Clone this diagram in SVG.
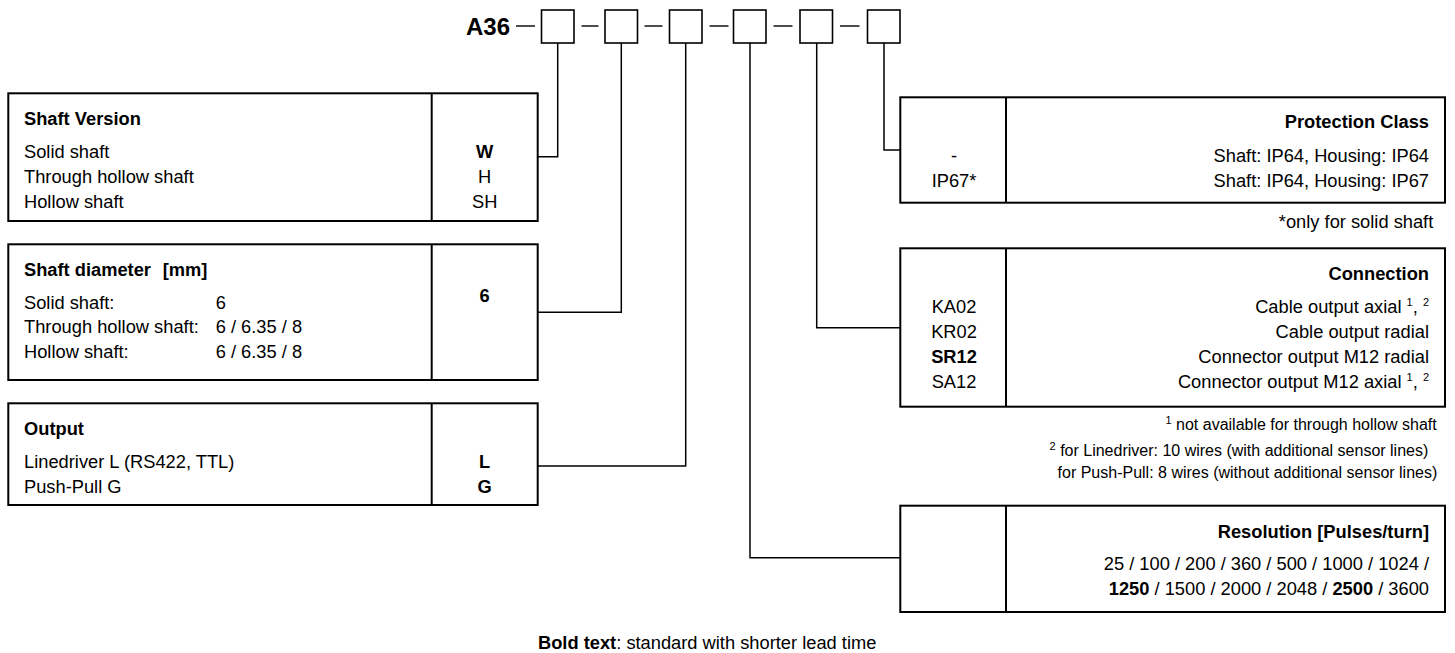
<svg xmlns="http://www.w3.org/2000/svg" width="1455" height="653" viewBox="0 0 1455 653">
<style>
text{font-family:"Liberation Sans",Arial,sans-serif;font-size:18.3px;fill:#000}
.b{font-weight:bold}
.c{text-anchor:middle}
.r{text-anchor:end}
.fn{font-size:16px}
.sup{font-size:11px}
.box{fill:#fff;stroke:#000;stroke-width:2}
.div{stroke:#000;stroke-width:2}
.hb{fill:#fff;stroke:#000;stroke-width:1.6}
.dash{stroke:#000;stroke-width:1.4}
.con{fill:none;stroke:#000;stroke-width:1.5}
</style>
<rect width="1455" height="653" fill="#fff"/>
<g id="header">
<text class="b r" x="510" y="35" style="font-size:24px">A36</text>
<line class="dash" x1="516" y1="26" x2="535" y2="26"/>
<line class="dash" x1="581.5" y1="26" x2="598.5" y2="26"/>
<line class="dash" x1="644.5" y1="26" x2="662.5" y2="26"/>
<line class="dash" x1="709.5" y1="26" x2="728.5" y2="26"/>
<line class="dash" x1="773.5" y1="26" x2="792.5" y2="26"/>
<line class="dash" x1="840" y1="26" x2="859.5" y2="26"/>
<rect class="hb" x="541.5" y="10" width="32.5" height="33"/>
<rect class="hb" x="605" y="10" width="32.5" height="33"/>
<rect class="hb" x="669.5" y="10" width="32.5" height="33"/>
<rect class="hb" x="733.5" y="10" width="32.5" height="33"/>
<rect class="hb" x="800" y="10" width="32.5" height="33"/>
<rect class="hb" x="867.5" y="10" width="32.5" height="33"/>
</g>
<g id="connectors">
<polyline class="con" points="557.7,43 557.7,156.7 537.7,156.7"/>
<polyline class="con" points="621.3,43 621.3,312.3 537.7,312.3"/>
<polyline class="con" points="685.7,43 685.7,466 537.7,466"/>
<polyline class="con" points="750,43 750,557.7 900.3,557.7"/>
<polyline class="con" points="816.7,43 816.7,327.7 900.3,327.7"/>
<polyline class="con" points="884,43 884,150 900.3,150"/>
</g>
<g id="shaft-version">
<rect class="box" x="8.3" y="93.3" width="529.4" height="127.7"/>
<line class="div" x1="431.7" y1="93.3" x2="431.7" y2="221"/>
<text class="b" x="24" y="125">Shaft Version</text>
<text x="24" y="157.7">Solid shaft</text>
<text x="24" y="183">Through hollow shaft</text>
<text x="24" y="208.3">Hollow shaft</text>
<text class="b c" x="484.7" y="157.7">W</text>
<text class="c" x="484.7" y="183">H</text>
<text class="c" x="484.7" y="208.3">SH</text>
</g>
<g id="shaft-diameter">
<rect class="box" x="8.3" y="244.3" width="529.4" height="135.7"/>
<line class="div" x1="431.7" y1="244.3" x2="431.7" y2="380"/>
<text class="b" x="24" y="275.7">Shaft diameter<tspan x="162.7">[mm]</tspan></text>
<text x="24" y="309">Solid shaft:</text>
<text x="24" y="333.3">Through hollow shaft:</text>
<text x="24" y="358.3">Hollow shaft:</text>
<text x="215.7" y="309">6</text>
<text x="215.7" y="333.3">6 / 6.35 / 8</text>
<text x="215.7" y="358.3">6 / 6.35 / 8</text>
<text class="b c" x="484.7" y="302.3">6</text>
</g>
<g id="output">
<rect class="box" x="8.3" y="403.3" width="529.4" height="101.7"/>
<line class="div" x1="431.7" y1="403.3" x2="431.7" y2="505"/>
<text class="b" x="24" y="435">Output</text>
<text x="24" y="467.7">Linedriver L (RS422, TTL)</text>
<text x="24" y="492.7">Push-Pull G</text>
<text class="b c" x="484.7" y="467.7">L</text>
<text class="b c" x="484.7" y="492.7">G</text>
</g>
<g id="protection-class">
<rect class="box" x="900.3" y="97.3" width="544.7" height="105.4"/>
<line class="div" x1="1006" y1="97.3" x2="1006" y2="202.7"/>
<text class="c" x="954" y="161.7">-</text>
<text class="c" x="954" y="186.7">IP67*</text>
<text class="b r" x="1429" y="128.3">Protection Class</text>
<text class="r" x="1429" y="161.7">Shaft: IP64, Housing: IP64</text>
<text class="r" x="1429" y="186.7">Shaft: IP64, Housing: IP67</text>
<text class="r" x="1433.3" y="228.3">*only for solid shaft</text>
</g>
<g id="connection">
<rect class="box" x="900.3" y="248.3" width="544.7" height="158.4"/>
<line class="div" x1="1006" y1="248.3" x2="1006" y2="406.7"/>
<text class="c" x="954" y="313.3">KA02</text>
<text class="c" x="954" y="338.3">KR02</text>
<text class="b c" x="954" y="363.3">SR12</text>
<text class="c" x="954" y="388.3">SA12</text>
<text class="b r" x="1429" y="280">Connection</text>
<text class="r" x="1429" y="313.3">Cable output axial <tspan class="sup" dy="-7">1</tspan><tspan dy="7">, </tspan><tspan class="sup" dy="-7">2</tspan></text>
<text class="r" x="1429" y="338.3">Cable output radial</text>
<text class="r" x="1429" y="363.3">Connector output M12 radial</text>
<text class="r" x="1429" y="388.3">Connector output M12 axial <tspan class="sup" dy="-7">1</tspan><tspan dy="7">, </tspan><tspan class="sup" dy="-7">2</tspan></text>
<text class="r fn" x="1436.7" y="430"><tspan class="sup" dy="-6">1</tspan><tspan dy="6"> not available for through hollow shaft</tspan></text>
<text class="r fn" x="1428.3" y="455.7"><tspan class="sup" dy="-6">2</tspan><tspan dy="6"> for Linedriver: 10 wires (with additional sensor lines)</tspan></text>
<text class="r fn" x="1437.3" y="477.7">for Push-Pull: 8 wires (without additional sensor lines)</text>
</g>
<g id="resolution">
<rect class="box" x="900.3" y="505.7" width="544.7" height="106.3"/>
<line class="div" x1="1006" y1="505.7" x2="1006" y2="612"/>
<text class="b r" x="1429" y="538.3">Resolution [Pulses/turn]</text>
<text class="r" x="1429" y="570">25 / 100 / 200 / 360 / 500 / 1000 / 1024 /</text>
<text class="r" x="1429" y="595"><tspan class="b">1250</tspan> / 1500 / 2000 / 2048 / <tspan class="b">2500</tspan> / 3600</text>
</g>
<g id="legend">
<text x="538" y="649"><tspan class="b">Bold text</tspan>: standard with shorter lead time</text>
</g>
</svg>
